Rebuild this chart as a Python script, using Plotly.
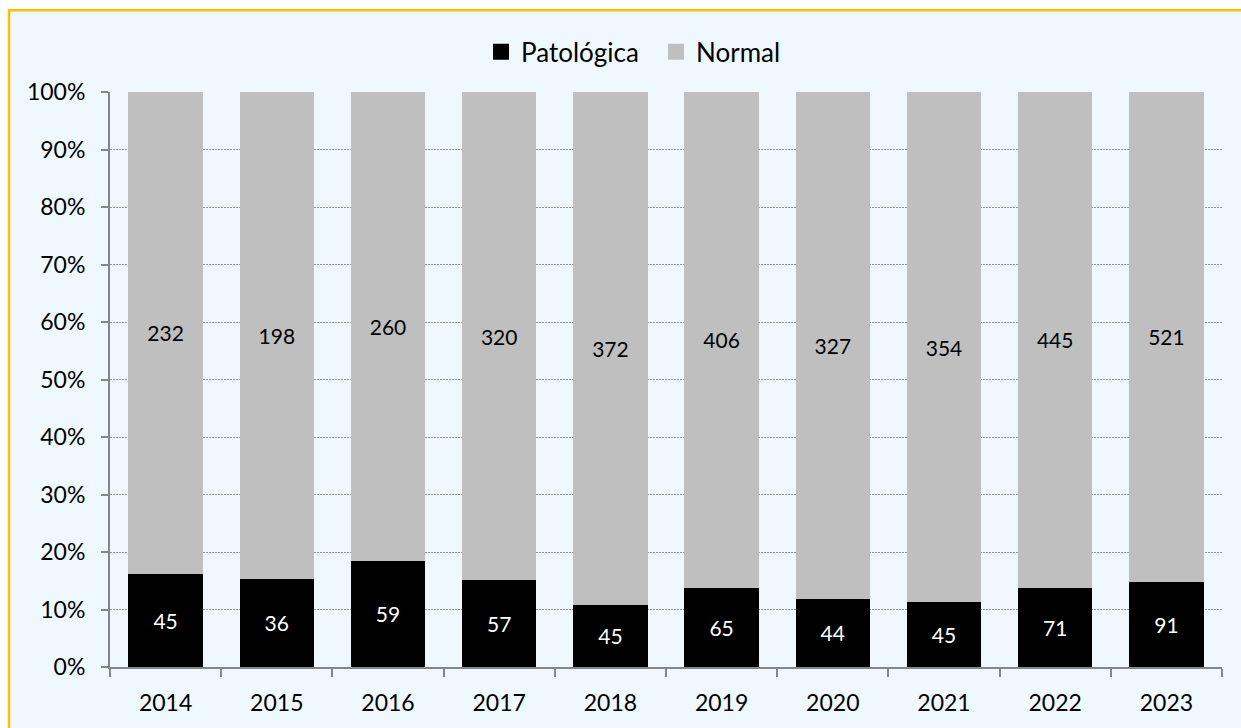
import plotly.graph_objects as go

years = ["2014", "2015", "2016", "2017", "2018", "2019", "2020", "2021", "2022", "2023"]
patologica = [45, 36, 59, 57, 45, 65, 44, 45, 71, 91]
normal = [232, 198, 260, 320, 372, 406, 327, 354, 445, 521]

W, H = 1241, 728
L, R, T, B = 110, 19, 92, 59
pw, ph = W - L - R, H - T - B

FONT = "Lato, 'Open Sans', sans-serif"
BLACK, GREY = "#000000", "#BFBFBF"

fig = go.Figure()
fig.add_trace(go.Bar(
    x=years, y=patologica, name="Patológica", showlegend=False,
    marker=dict(color=BLACK, line=dict(width=0)),
    text=patologica, texttemplate="%{text}", textposition="inside",
    insidetextanchor="middle", textangle=0,
    insidetextfont=dict(color="white", size=21, family=FONT),
))
fig.add_trace(go.Bar(
    x=years, y=normal, name="Normal", showlegend=False,
    marker=dict(color=GREY, line=dict(width=0)),
    text=normal, texttemplate="%{text}", textposition="inside",
    insidetextanchor="middle", textangle=0,
    insidetextfont=dict(color="black", size=21, family=FONT),
))

# legend-only entries with bigger square keys
for name, col in [("Patológica", BLACK), ("Normal", GREY)]:
    fig.add_trace(go.Scatter(
        x=[None], y=[None], mode="markers", name=name,
        marker=dict(symbol="square", size=16, color=col),
    ))

# orange frame around the chart area (runs off the right/bottom edges)
fig.add_shape(
    type="rect", xref="paper", yref="paper", layer="below",
    x0=(9 - L) / pw, x1=(W + 10 - L) / pw,
    y0=-(B + 10) / ph, y1=(H - 10 - B) / ph,
    fillcolor="#F0F8FF", line=dict(color="#FFC000", width=2.5),
)

fig.update_layout(
    width=W, height=H,
    margin=dict(l=L, r=R, t=T, b=B),
    barmode="stack", barnorm="percent", bargap=0.33,
    paper_bgcolor="white", plot_bgcolor="rgba(0,0,0,0)",
    font=dict(family=FONT, size=23, color="black"),
    showlegend=True,
    legend=dict(orientation="h", x=(481 - L) / pw, xanchor="left", y=1.07, yanchor="middle",
                font=dict(size=26), traceorder="normal", bgcolor="rgba(0,0,0,0)",
                itemwidth=30, itemsizing="trace", entrywidth=130, entrywidthmode="pixels"),
)
fig.update_yaxes(
    range=[0, 100], dtick=10, ticksuffix="%",
    showgrid=True, gridcolor="#959595", griddash="2px,1px", gridwidth=1.3,
    showline=True, linecolor="#868686", linewidth=2,
    ticks="outside", ticklen=7, tickcolor="#868686", tickwidth=2,
    zeroline=False, tickfont=dict(size=23), ticklabelstandoff=11,
)
fig.update_xaxes(
    showline=True, linecolor="#868686", linewidth=2,
    ticks="outside", tickson="boundaries", ticklen=8, tickcolor="#868686", tickwidth=2,
    showgrid=False, tickfont=dict(size=23), ticklabelstandoff=14,
)

# drop the default 8px page margin so the figure sits at the window origin
fig.write_html(
    "out.html",
    config={"displayModeBar": False},
    post_script="document.body.style.margin='0';document.body.style.overflow='hidden';",
)
